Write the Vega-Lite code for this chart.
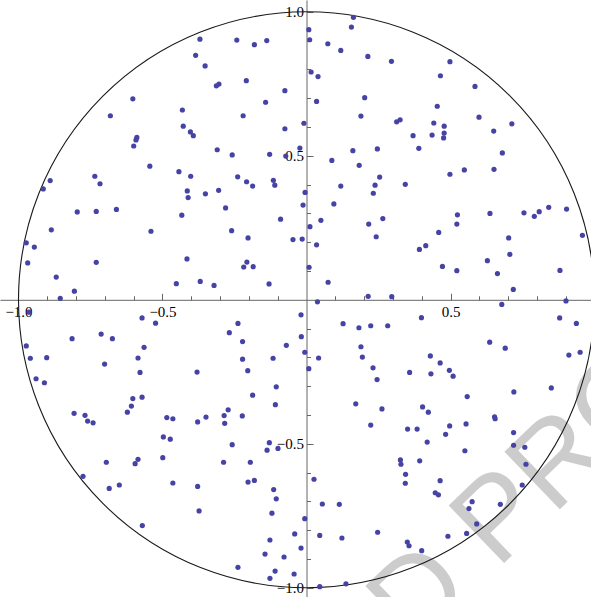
{
  "$schema": "https://vega.github.io/schema/vega-lite/v6.json",
  "width": 591,
  "height": 597,
  "autosize": "none",
  "padding": 0,
  "background": "white",
  "config": {"view": {"stroke": null}},
  "datasets": {
    "pts": [
      {"x": -0.370, "y": 0.905}, {"x": -0.385, "y": 0.849}, {"x": -0.603, "y": 0.698}, {"x": -0.431, "y": 0.659},
      {"x": -0.681, "y": 0.639}, {"x": -0.428, "y": 0.603}, {"x": -0.403, "y": 0.583}, {"x": -0.393, "y": 0.570},
      {"x": -0.589, "y": 0.564}, {"x": -0.592, "y": 0.555}, {"x": -0.600, "y": 0.534}, {"x": -0.544, "y": 0.464},
      {"x": -0.443, "y": 0.445}, {"x": -0.402, "y": 0.429}, {"x": -0.735, "y": 0.429}, {"x": -0.890, "y": 0.414},
      {"x": -0.717, "y": 0.403}, {"x": -0.914, "y": 0.385}, {"x": -0.414, "y": 0.378}, {"x": -0.411, "y": 0.355},
      {"x": -0.242, "y": 0.902}, {"x": -0.181, "y": 0.886}, {"x": -0.138, "y": 0.900}, {"x": -0.352, "y": 0.812},
      {"x": 0.163, "y": 0.981}, {"x": 0.156, "y": 0.947}, {"x": 0.008, "y": 0.938}, {"x": 0.011, "y": 0.903},
      {"x": 0.074, "y": 0.889}, {"x": 0.119, "y": 0.866}, {"x": 0.213, "y": 0.845}, {"x": 0.295, "y": 0.828},
      {"x": 0.016, "y": 0.791}, {"x": 0.040, "y": 0.775}, {"x": -0.313, "y": 0.743}, {"x": -0.304, "y": 0.749},
      {"x": -0.209, "y": 0.761}, {"x": -0.075, "y": 0.726}, {"x": -0.142, "y": 0.686}, {"x": 0.035, "y": 0.689},
      {"x": 0.202, "y": 0.702}, {"x": 0.189, "y": 0.638}, {"x": -0.220, "y": 0.639}, {"x": -0.075, "y": 0.594},
      {"x": -0.009, "y": 0.613}, {"x": -0.310, "y": 0.521}, {"x": -0.258, "y": 0.503}, {"x": -0.128, "y": 0.505},
      {"x": -0.072, "y": 0.499}, {"x": -0.023, "y": 0.527}, {"x": 0.088, "y": 0.484}, {"x": 0.161, "y": 0.518},
      {"x": 0.183, "y": 0.467}, {"x": 0.246, "y": 0.524}, {"x": 0.254, "y": 0.426}, {"x": 0.238, "y": 0.398},
      {"x": 0.232, "y": 0.370}, {"x": 0.119, "y": 0.395}, {"x": -0.005, "y": 0.373}, {"x": -0.239, "y": 0.427},
      {"x": -0.208, "y": 0.410}, {"x": -0.187, "y": 0.395}, {"x": -0.115, "y": 0.415}, {"x": -0.110, "y": 0.398},
      {"x": -0.305, "y": 0.380}, {"x": -0.351, "y": 0.368},
      {"x": 0.498, "y": 0.827}, {"x": 0.465, "y": 0.778}, {"x": 0.585, "y": 0.741}, {"x": 0.454, "y": 0.672},
      {"x": 0.599, "y": 0.634}, {"x": 0.713, "y": 0.611}, {"x": 0.313, "y": 0.618}, {"x": 0.325, "y": 0.625},
      {"x": 0.442, "y": 0.614}, {"x": 0.478, "y": 0.603}, {"x": 0.436, "y": 0.572}, {"x": 0.478, "y": 0.579},
      {"x": 0.476, "y": 0.562}, {"x": 0.370, "y": 0.570}, {"x": 0.650, "y": 0.586}, {"x": 0.390, "y": 0.526},
      {"x": 0.680, "y": 0.510}, {"x": 0.498, "y": 0.436}, {"x": 0.548, "y": 0.451}, {"x": 0.651, "y": 0.453},
      {"x": 0.343, "y": 0.401},
      {"x": -0.433, "y": 0.294}, {"x": -0.796, "y": 0.305}, {"x": -0.730, "y": 0.307}, {"x": -0.660, "y": 0.314},
      {"x": -0.886, "y": 0.243}, {"x": -0.540, "y": 0.238}, {"x": -0.973, "y": 0.198}, {"x": -0.945, "y": 0.183},
      {"x": -0.968, "y": 0.128}, {"x": -0.730, "y": 0.130}, {"x": -0.415, "y": 0.142}, {"x": -0.869, "y": 0.079},
      {"x": -0.452, "y": 0.056}, {"x": -0.806, "y": 0.030}, {"x": -0.855, "y": 0.005}, {"x": -0.963, "y": -0.043},
      {"x": -0.571, "y": -0.063}, {"x": -0.524, "y": -0.081}, {"x": -0.713, "y": -0.119}, {"x": -0.674, "y": -0.135},
      {"x": -0.814, "y": -0.135}, {"x": -0.973, "y": -0.160}, {"x": -0.564, "y": -0.165}, {"x": -0.959, "y": -0.203},
      {"x": -0.902, "y": -0.201}, {"x": -0.585, "y": -0.202}, {"x": -0.701, "y": -0.223}, {"x": -0.578, "y": -0.252},
      {"x": -0.939, "y": -0.274}, {"x": -0.910, "y": -0.288}, {"x": -0.603, "y": -0.343}, {"x": -0.571, "y": -0.338},
      {"x": -0.608, "y": -0.369}, {"x": -0.622, "y": -0.390}, {"x": -0.807, "y": -0.394}, {"x": -0.769, "y": -0.401},
      {"x": -0.760, "y": -0.421}, {"x": -0.741, "y": -0.427}, {"x": -0.485, "y": -0.409}, {"x": -0.464, "y": -0.413},
      {"x": -0.497, "y": -0.476}, {"x": -0.473, "y": -0.484}, {"x": -0.695, "y": -0.564}, {"x": -0.585, "y": -0.554},
      {"x": -0.595, "y": -0.569}, {"x": -0.499, "y": -0.548}, {"x": -0.776, "y": -0.613}, {"x": -0.685, "y": -0.655},
      {"x": -0.650, "y": -0.643}, {"x": -0.464, "y": -0.636}, {"x": -0.570, "y": -0.784},
      {"x": -0.281, "y": 0.319}, {"x": -0.012, "y": 0.329}, {"x": 0.095, "y": 0.333}, {"x": -0.090, "y": 0.280},
      {"x": 0.050, "y": 0.276}, {"x": 0.012, "y": 0.254}, {"x": 0.216, "y": 0.263}, {"x": 0.265, "y": 0.282},
      {"x": -0.260, "y": 0.240}, {"x": -0.203, "y": 0.215}, {"x": -0.047, "y": 0.209}, {"x": -0.015, "y": 0.211},
      {"x": 0.035, "y": 0.191}, {"x": 0.242, "y": 0.219}, {"x": -0.207, "y": 0.131}, {"x": -0.218, "y": 0.114},
      {"x": -0.185, "y": 0.115}, {"x": 0.009, "y": 0.113}, {"x": -0.369, "y": 0.064}, {"x": -0.321, "y": 0.050},
      {"x": -0.130, "y": 0.055}, {"x": 0.075, "y": 0.061}, {"x": 0.214, "y": 0.012}, {"x": 0.038, "y": -0.007},
      {"x": -0.019, "y": -0.052}, {"x": -0.238, "y": -0.082}, {"x": -0.268, "y": -0.114}, {"x": 0.127, "y": -0.083},
      {"x": 0.182, "y": -0.097}, {"x": 0.223, "y": -0.090}, {"x": 0.282, "y": -0.090}, {"x": -0.222, "y": -0.145},
      {"x": -0.018, "y": -0.128}, {"x": -0.070, "y": -0.158}, {"x": 0.189, "y": -0.163}, {"x": -0.006, "y": -0.182},
      {"x": -0.222, "y": -0.206}, {"x": -0.116, "y": -0.203}, {"x": 0.042, "y": -0.202}, {"x": 0.194, "y": -0.199},
      {"x": -0.380, "y": -0.251}, {"x": -0.204, "y": -0.246}, {"x": 0.008, "y": -0.239}, {"x": 0.231, "y": -0.236},
      {"x": 0.245, "y": -0.277}, {"x": -0.105, "y": -0.302}, {"x": -0.187, "y": -0.331},
      {"x": 0.524, "y": 0.295}, {"x": 0.637, "y": 0.300}, {"x": 0.755, "y": 0.302}, {"x": 0.791, "y": 0.290},
      {"x": 0.808, "y": 0.306}, {"x": 0.841, "y": 0.321}, {"x": 0.903, "y": 0.315}, {"x": 0.522, "y": 0.263},
      {"x": 0.459, "y": 0.234}, {"x": 0.958, "y": 0.224}, {"x": 0.702, "y": 0.215}, {"x": 0.414, "y": 0.188},
      {"x": 0.392, "y": 0.175}, {"x": 0.706, "y": 0.158}, {"x": 0.628, "y": 0.136}, {"x": 0.472, "y": 0.116},
      {"x": 0.522, "y": 0.101}, {"x": 0.663, "y": 0.091}, {"x": 0.880, "y": 0.102}, {"x": 0.718, "y": 0.036},
      {"x": 0.296, "y": 0.011}, {"x": 0.678, "y": -0.016}, {"x": 0.901, "y": -0.004}, {"x": 0.399, "y": -0.062},
      {"x": 0.879, "y": -0.063}, {"x": 0.937, "y": -0.082}, {"x": 0.636, "y": -0.147}, {"x": 0.690, "y": -0.168},
      {"x": 0.430, "y": -0.195}, {"x": 0.464, "y": -0.219}, {"x": 0.911, "y": -0.192}, {"x": 0.950, "y": -0.182},
      {"x": 0.496, "y": -0.245}, {"x": 0.509, "y": -0.265}, {"x": 0.358, "y": -0.252}, {"x": 0.432, "y": -0.257},
      {"x": 0.720, "y": -0.320}, {"x": 0.850, "y": -0.306},
      {"x": -0.108, "y": -0.364}, {"x": -0.272, "y": -0.382}, {"x": -0.286, "y": -0.402}, {"x": -0.223, "y": -0.403},
      {"x": -0.349, "y": -0.407}, {"x": -0.378, "y": -0.424}, {"x": -0.284, "y": -0.429}, {"x": 0.171, "y": -0.361},
      {"x": 0.262, "y": -0.379}, {"x": 0.223, "y": -0.435}, {"x": -0.258, "y": -0.503}, {"x": -0.129, "y": -0.496},
      {"x": -0.137, "y": -0.522}, {"x": -0.099, "y": -0.516}, {"x": -0.288, "y": -0.564}, {"x": -0.195, "y": -0.564},
      {"x": -0.378, "y": -0.648}, {"x": -0.203, "y": -0.633}, {"x": -0.181, "y": -0.627}, {"x": -0.114, "y": -0.659},
      {"x": -0.105, "y": -0.691}, {"x": 0.026, "y": -0.623}, {"x": -0.373, "y": -0.733}, {"x": -0.120, "y": -0.741},
      {"x": 0.055, "y": -0.709}, {"x": 0.114, "y": -0.710}, {"x": -0.006, "y": -0.760}, {"x": -0.041, "y": -0.813},
      {"x": 0.046, "y": -0.818}, {"x": 0.123, "y": -0.827}, {"x": 0.247, "y": -0.807}, {"x": -0.127, "y": -0.834},
      {"x": -0.019, "y": -0.862}, {"x": -0.144, "y": -0.883}, {"x": -0.078, "y": -0.893}, {"x": -0.238, "y": -0.929},
      {"x": -0.109, "y": -0.942}, {"x": -0.127, "y": -0.967}, {"x": -0.043, "y": -0.952}, {"x": 0.046, "y": -0.996},
      {"x": 0.137, "y": -0.986},
      {"x": 0.558, "y": -0.336}, {"x": 0.403, "y": -0.372}, {"x": 0.423, "y": -0.390}, {"x": 0.653, "y": -0.406},
      {"x": 0.655, "y": -0.413}, {"x": 0.351, "y": -0.449}, {"x": 0.384, "y": -0.449}, {"x": 0.497, "y": -0.438},
      {"x": 0.554, "y": -0.431}, {"x": 0.483, "y": -0.467}, {"x": 0.419, "y": -0.494}, {"x": 0.719, "y": -0.461},
      {"x": 0.719, "y": -0.505}, {"x": 0.758, "y": -0.512}, {"x": 0.550, "y": -0.524}, {"x": 0.326, "y": -0.556},
      {"x": 0.328, "y": -0.571}, {"x": 0.393, "y": -0.559}, {"x": 0.762, "y": -0.571}, {"x": 0.344, "y": -0.606},
      {"x": 0.343, "y": -0.637}, {"x": 0.464, "y": -0.628}, {"x": 0.447, "y": -0.670}, {"x": 0.458, "y": -0.677},
      {"x": 0.749, "y": -0.643}, {"x": 0.575, "y": -0.701}, {"x": 0.564, "y": -0.725}, {"x": 0.673, "y": -0.710},
      {"x": 0.591, "y": -0.778}, {"x": 0.556, "y": -0.811}, {"x": 0.491, "y": -0.821}, {"x": 0.350, "y": -0.841},
      {"x": 0.356, "y": -0.854}, {"x": 0.400, "y": -0.871}
    ],
    "ring": [{"x": 0, "y": 0}],
    "stamp": [{"x": 0.373, "y": -1.216, "t": "D PRO"}]
  },
  "encoding": {
    "x": {
      "field": "x",
      "type": "quantitative",
      "scale": {"domain": [-1.0642, 0.9878], "nice": false, "zero": false},
      "axis": {
        "title": null,
        "orient": "bottom",
        "offset": -297.2,
        "grid": false,
        "values": [-1, -0.9, -0.8, -0.7, -0.6, -0.5, -0.4, -0.3, -0.2, -0.1, 0.1, 0.2, 0.3, 0.4, 0.5, 0.6, 0.7, 0.8, 0.9],
        "labelExpr": "abs(datum.value) > 0.45 && abs(datum.value * 2 - round(datum.value * 2)) < 0.001 ? format(datum.value, '.1f') : ''",
        "tickSize": {"condition": {"test": "abs(datum.value * 2 - round(datum.value * 2)) < 0.001", "value": -6.5}, "value": -4},
        "labelPadding": 11.5,
        "labelFont": "Liberation Serif",
        "labelFontSize": 15,
        "labelColor": "#000000",
        "labelFlush": false,
        "labelOverlap": false,
        "domainColor": "#666666",
        "domainWidth": 1,
        "tickColor": "#666666",
        "tickWidth": 1
      }
    },
    "y": {
      "field": "y",
      "type": "quantitative",
      "scale": {"domain": [-1.0319, 1.041], "nice": false, "zero": false},
      "axis": {
        "title": null,
        "orient": "left",
        "offset": -306.5,
        "grid": false,
        "values": [-1, -0.9, -0.8, -0.7, -0.6, -0.5, -0.4, -0.3, -0.2, -0.1, 0.1, 0.2, 0.3, 0.4, 0.5, 0.6, 0.7, 0.8, 0.9, 1],
        "labelExpr": "abs(datum.value) > 0.45 && abs(datum.value * 2 - round(datum.value * 2)) < 0.001 ? format(datum.value, '.1f') : ''",
        "tickSize": {"condition": {"test": "abs(datum.value * 2 - round(datum.value * 2)) < 0.001", "value": -6.5}, "value": -4},
        "labelPadding": 9.5,
        "labelFont": "Liberation Serif",
        "labelFontSize": 15,
        "labelColor": "#000000",
        "labelFlush": false,
        "labelOverlap": false,
        "domainColor": "#666666",
        "domainWidth": 1,
        "tickColor": "#666666",
        "tickWidth": 1
      }
    }
  },
  "layer": [
    {
      "data": {"name": "stamp"},
      "mark": {
        "type": "text",
        "clip": true,
        "font": "Liberation Sans",
        "fontSize": 116,
        "angle": -44,
        "align": "left",
        "baseline": "alphabetic",
        "color": "#cccccc"
      },
      "encoding": {"text": {"field": "t"}}
    },
    {
      "data": {"name": "ring"},
      "mark": {
        "type": "point",
        "shape": "circle",
        "filled": false,
        "size": 331776,
        "stroke": "#1a1a1a",
        "strokeWidth": 1.1,
        "opacity": 1
      }
    },
    {
      "data": {"name": "pts"},
      "mark": {
        "type": "point",
        "shape": "circle",
        "filled": true,
        "size": 27,
        "color": "#4643a5",
        "opacity": 1
      }
    }
  ]
}
